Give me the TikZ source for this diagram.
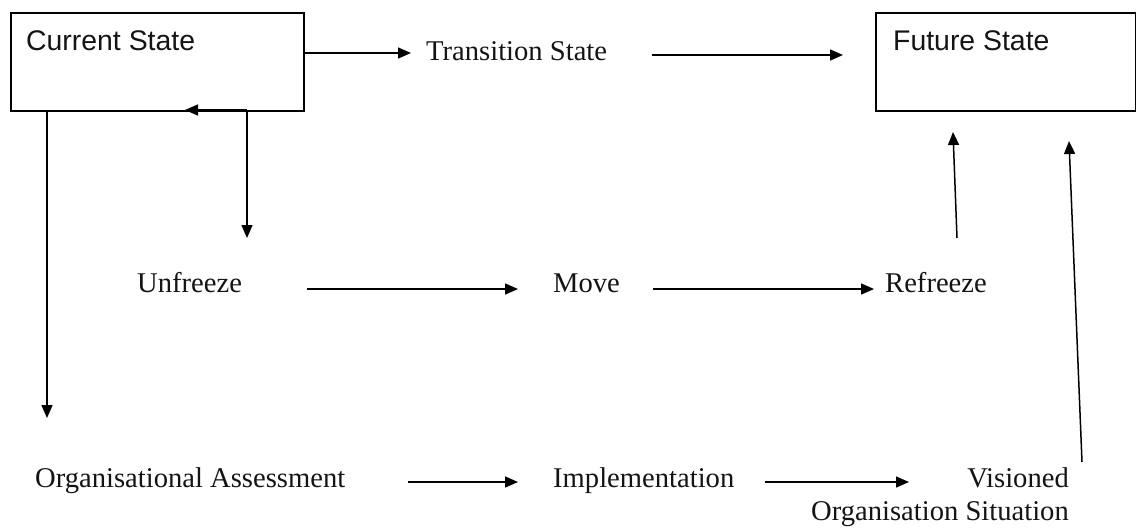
\documentclass[tikz,border=0pt]{standalone}
\usepackage{fontspec}
\setmainfont{Liberation Serif}
\newfontfamily\arialfont{Liberation Sans}
\usetikzlibrary{arrows.meta}
\begin{document}
\begin{tikzpicture}[x=1pt,y=-1pt,
  lbl/.style={inner sep=0pt, anchor=base west, font=\fontsize{28.6}{33}\selectfont, text=black!92},
  boxlbl/.style={inner sep=0pt, anchor=base west, font=\arialfont\fontsize{28.4}{33}\selectfont, text=black!92},
  statebox/.style={draw, line width=1.6pt, anchor=north west, inner sep=0pt},
  arr/.style={line width=1.5pt, -{Triangle[length=13pt,width=11pt]}},
  ln/.style={line width=1.5pt}]
\useasboundingbox (0,0) rectangle (1136,528);
\fill[white] (0,0) rectangle (1136,528);
% boxes
\node[statebox, minimum width=293pt, minimum height=98pt] (cur) at (10,12) {};
\node[statebox, minimum width=260pt, minimum height=98pt] (fut) at (875,12) {};
\node[boxlbl] (curt) at (26,50) {Current State};
\node[boxlbl] (futt) at (893,50) {Future State};
% texts
\node[lbl] (trans) at (426,60) {Transition State};
\node[lbl] (unf) at (137,292) {Unfreeze};
\node[lbl] (move) at (553,292) {Move};
\node[lbl] (ref) at (885,292) {Refreeze};
\node[lbl] (oa) at (35,487) {Organisational Assessment};
\node[lbl] (impl) at (553,487) {Implementation};
\node[lbl, anchor=base east] (vis1) at (1069,487) {Visioned};
\node[lbl, anchor=base east] (vis2) at (1069,520) {Organisation Situation};
% coordinates
\coordinate (a1s) at (303,53);
\coordinate (a1e) at (411,53);
\coordinate (a2s) at (652,55);
\coordinate (a2e) at (843,55);
\coordinate (dvs) at (247,110);
\coordinate (dve) at (247,238);
\coordinate (lts) at (247,110);
\coordinate (lte) at (185,110);
\coordinate (dls) at (47,110);
\coordinate (dle) at (47,418);
\coordinate (b1s) at (307,289);
\coordinate (b1e) at (518,289);
\coordinate (b2s) at (653,289);
\coordinate (b2e) at (874,289);
\coordinate (c1s) at (408,482);
\coordinate (c1e) at (518,482);
\coordinate (c2s) at (765,482);
\coordinate (c2e) at (909,482);
\coordinate (u1s) at (957,238);
\coordinate (u1e) at (953,132);
\coordinate (u2s) at (1082,462);
\coordinate (u2e) at (1069,141);
% connectors
\draw[arr] (a1s) -- (a1e);
\draw[arr] (a2s) -- (a2e);
\draw[arr] (dvs) -- (dve);
\draw[arr] (lts) -- (lte);
\draw[arr] (dls) -- (dle);
\draw[arr] (b1s) -- (b1e);
\draw[arr] (b2s) -- (b2e);
\draw[arr] (c1s) -- (c1e);
\draw[arr] (c2s) -- (c2e);
\draw[arr] (u1s) -- (u1e);
\draw[arr] (u2s) -- (u2e);
\end{tikzpicture}
\end{document}
